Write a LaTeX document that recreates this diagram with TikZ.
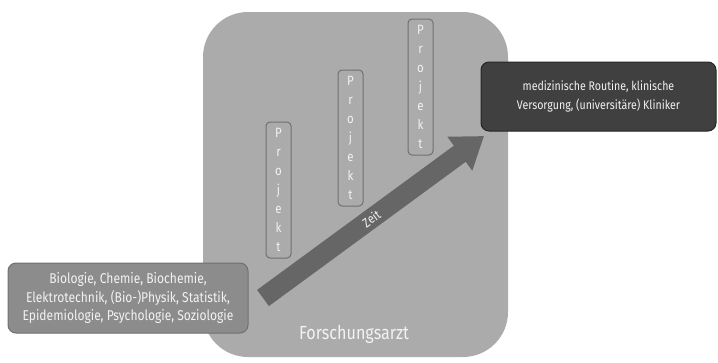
\documentclass[tikz,border=0pt]{standalone}
\usepackage{fontspec}
\setmainfont{Fira Sans}[FakeStretch=0.85]
\usepackage{tikz}
\usetikzlibrary{arrows.meta,positioning}

\definecolor{arztgrau}{HTML}{ABABAB}
\definecolor{fachgrau}{HTML}{8C8C8C}
\definecolor{klinikgrau}{HTML}{404040}
\definecolor{pfeilgrau}{HTML}{666666}
\definecolor{randgrau}{HTML}{707070}
\definecolor{textweiss}{HTML}{F2F2F2}

\tikzset{
	arzt/.style={fill=arztgrau, rounded corners=45pt, minimum width=305pt, minimum height=345pt},
	fachbox/.style={draw=randgrau, line width=1pt, fill=fachgrau, rounded corners=8pt, text=textweiss, align=center,
		minimum width=240pt, minimum height=70pt, inner sep=0pt, font=\fontsize{14.2}{18.5}\selectfont},
	klinikbox/.style={draw=black!85, line width=1pt, fill=klinikgrau, rounded corners=8pt, text=textweiss, align=center,
		minimum width=235pt, minimum height=69pt, inner sep=0pt, font=\fontsize{12.5}{19}\selectfont},
	projekt/.style={draw=randgrau, line width=1pt, rounded corners=4pt, text=textweiss, align=center,
		minimum width=25pt, minimum height=136pt, inner sep=0pt, font=\fontsize{13.5}{19}\selectfont},
	zeitpfeil/.style={draw=pfeilgrau, line width=20pt, -{Triangle[width=40pt,length=30pt]}}
}

\begin{document}
\begin{tikzpicture}[x=1pt,y=-1pt]
	\useasboundingbox (0,0) rectangle (718,362);
	\node[arzt] (arzt) at (355.5,184.5) {};
	\node[text=textweiss, font=\fontsize{19}{21}\selectfont] (titel) at (354,334) {Forschungsarzt};
	\node[fachbox] (fach) at (128,298) {Biologie, Chemie, Biochemie,\\Elektrotechnik, (Bio-)Physik, Statistik,\\Epidemiologie, Psychologie, Soziologie};
	\node[klinikbox] (klinik) at (598.5,96.5) {medizinische Routine, klinische\\Versorgung, (universitäre) Kliniker};
	\foreach \i/\x/\y in {1/278.5/190, 2/350.5/138, 3/420.5/87}
		\node[projekt] (p\i) at (\x,\y) {P\\r\\o\\j\\e\\k\\t};
	\coordinate (zeitstart) at (263,298);
	\coordinate (zeitend) at (484,136);
	\draw[zeitpfeil] (zeitstart) -- (zeitend) node[pos=0.49, sloped, text=textweiss, font=\fontsize{13}{15}\selectfont] (zeit) {Zeit};
\end{tikzpicture}
\end{document}
